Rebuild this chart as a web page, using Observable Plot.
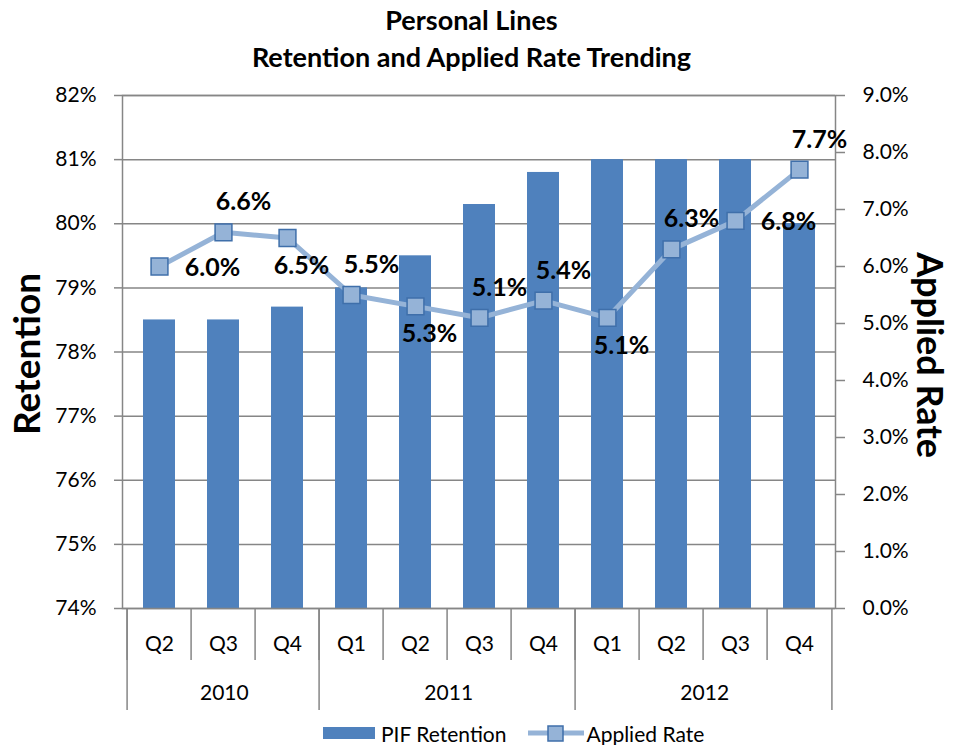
<!DOCTYPE html>
<html>
<head>
<meta charset="utf-8">
<script src="https://cdn.jsdelivr.net/npm/d3@7"></script>
<script src="https://cdn.jsdelivr.net/npm/@observablehq/plot@0.6"></script>
<style>
  body { margin: 0; background: #fff; font-family: Lato, "Open Sans", sans-serif; }
  #wrap { position: relative; width: 953px; height: 745px; overflow: hidden; }
  #title { position: absolute; left: 0; top: 0; width: 953px; text-align: center; font-weight: bold; font-size: 27px; line-height: 37px; padding-top: 1px; color: #000; margin-left: -5px; }
  #chart { position: absolute; left: 0; top: 78px; }
  #legend { position: absolute; left: 323px; top: 719px; height: 28px; display: flex; align-items: center; font-size: 21px; color: #000; }
  #legend .item { display: flex; align-items: center; }
</style>
</head>
<body>
<div id="wrap">
  <div id="title">Personal Lines<br>Retention and Applied Rate Trending</div>
  <div id="chart"></div>
  <div id="legend"></div>
</div>
<script>
// ---- data ----
const years = ["2010", "2010", "2010", "2011", "2011", "2011", "2011", "2012", "2012", "2012", "2012"];
const quarters = ["Q2", "Q3", "Q4", "Q1", "Q2", "Q3", "Q4", "Q1", "Q2", "Q3", "Q4"];
const pifRetention = [78.5, 78.5, 78.7, 79.0, 79.5, 80.3, 80.8, 81.0, 81.0, 81.0, 80.0];
const appliedRate = [6.0, 6.6, 6.5, 5.5, 5.3, 5.1, 5.4, 5.1, 6.3, 6.8, 7.7];
const labelPlacement = ["right", "above", "below", "above", "below", "above", "above", "below", "above", "right", "above"];
const retentionTicks = [74, 75, 76, 77, 78, 79, 80, 81, 82];
const rateTicks = [0, 1, 2, 3, 4, 5, 6, 7, 8, 9];
const yearLabels = ["2010", "2011", "2012"];

// ---- build ----
const retMin = 74, retMax = 82, rateMin = 0, rateMax = 9;
const toRet = r => retMin + (r - rateMin) * (retMax - retMin) / (rateMax - rateMin);
const toRate = v => rateMin + (v - retMin) * (rateMax - rateMin) / (retMax - retMin);

const data = quarters.map((q, i) => ({
  key: years[i] + " " + q, year: years[i], quarter: q,
  ret: pifRetention[i], rate: appliedRate[i], place: labelPlacement[i]
}));
const keys = data.map(d => d.key);

const W = 953, H = 640, mL = 122, mR = 118, mT = 17, mB = 110;
const step = (W - mL - mR) / keys.length;
const FONT = "Lato, 'Open Sans', sans-serif";
const GRID = "#868686";
const BAR = "#4F81BD", LINE = "#95B3D7", MSTROKE = "#3F6FAA";

const yearMarks = yearLabels.map(y => {
  const ks = data.filter(d => d.year === y).map(d => d.key);
  return Plot.text([y], {
    x: () => ks[0], frameAnchor: "bottom",
    dx: (ks.length - 1) / 2 * step, dy: 91,
    fontSize: 21, fill: "#000"
  });
});
const yearStarts = yearLabels.map(y => data.find(d => d.year === y).key);
const lbl = d => d.rate.toFixed(1) + "%";

const chart = Plot.plot({
  width: W, height: H,
  marginLeft: mL, marginRight: mR, marginTop: mT, marginBottom: mB,
  style: { fontFamily: FONT, fontSize: "21px", color: "#000", background: "#fff" },
  x: { type: "band", domain: keys, paddingInner: 0.5, paddingOuter: 0.25, axis: null },
  y: { domain: [retMin, retMax], axis: null },
  marks: [
    Plot.ruleY(retentionTicks, { stroke: GRID, strokeWidth: 1.5 }),
    Plot.barY(data, { x: "key", y1: retMin, y2: "ret", fill: BAR }),
    Plot.frame({ stroke: GRID, strokeWidth: 1.5 }),
    Plot.axisY({ anchor: "left", ticks: retentionTicks, tickFormat: d => d + "%", tickSize: 8, tickPadding: 18, stroke: GRID, strokeWidth: 1.5, fontSize: 21, label: null }),
    Plot.axisY({ anchor: "right", ticks: rateTicks.map(toRet), tickFormat: d => toRate(d).toFixed(1) + "%", tickSize: 9, tickPadding: 18, stroke: GRID, strokeWidth: 1.5, fontSize: 21, label: null }),
    // quarter / year separators and labels
    Plot.axisX({ ticks: keys, tickSize: 52, tickFormat: () => "", dx: -step / 2, stroke: GRID, strokeWidth: 1.5, label: null }),
    Plot.axisX({ ticks: yearStarts, tickSize: 102, tickFormat: () => "", dx: -step / 2, stroke: GRID, strokeWidth: 1.5, label: null }),
    Plot.axisX({ ticks: [keys[keys.length - 1]], tickSize: 102, tickFormat: () => "", dx: step / 2, stroke: GRID, strokeWidth: 1.5, label: null }),
    Plot.axisX({ ticks: keys, tickSize: 0, tickPadding: 28, tickFormat: d => d.split(" ")[1], fontSize: 21, label: null }),
    ...yearMarks,
    // axis titles
    Plot.text(["Retention"], { frameAnchor: "left", textAnchor: "middle", dx: -94, dy: 2, rotate: -90, fontSize: 37, fontWeight: "bold", fill: "#000" }),
    Plot.text(["Applied Rate"], { frameAnchor: "right", textAnchor: "middle", dx: 93, dy: 3, rotate: 90, fontSize: 36, fontWeight: "bold", fill: "#000" }),
    // applied rate line
    Plot.line(data, { x: "key", y: d => toRet(d.rate), stroke: LINE, strokeWidth: 5 }),
    Plot.dot(data, { x: "key", y: d => toRet(d.rate), symbol: "square", r: 9.5, fill: LINE, stroke: MSTROKE, strokeWidth: 1.5 }),
    // data labels
    Plot.text(data.filter(d => d.place === "above"), { x: "key", y: d => toRet(d.rate), text: lbl, dx: 20, dy: -30, fontSize: 25, fontWeight: "bold", fill: "#000" }),
    Plot.text(data.filter(d => d.place === "below"), { x: "key", y: d => toRet(d.rate), text: lbl, dx: 14, dy: 28, fontSize: 25, fontWeight: "bold", fill: "#000" }),
    Plot.text(data.filter(d => d.place === "right"), { x: "key", y: d => toRet(d.rate), text: lbl, dx: 53, dy: 1, fontSize: 25, fontWeight: "bold", fill: "#000" })
  ]
});
document.getElementById("chart").appendChild(chart);

// legend
const legend = document.getElementById("legend");
legend.innerHTML = `
  <div class="item"><svg width="52" height="14"><rect x="0" y="1" width="52" height="12" fill="${BAR}"/></svg><span style="margin-left:6px">PIF Retention</span></div>
  <div class="item" style="margin-left:22px"><svg width="56" height="20"><line x1="0" y1="10" x2="56" y2="10" stroke="${LINE}" stroke-width="5"/><rect x="20" y="3" width="15" height="15" fill="${LINE}" stroke="${MSTROKE}" stroke-width="1.5"/></svg><span style="margin-left:2px">Applied Rate</span></div>`;
</script>
</body>
</html>
